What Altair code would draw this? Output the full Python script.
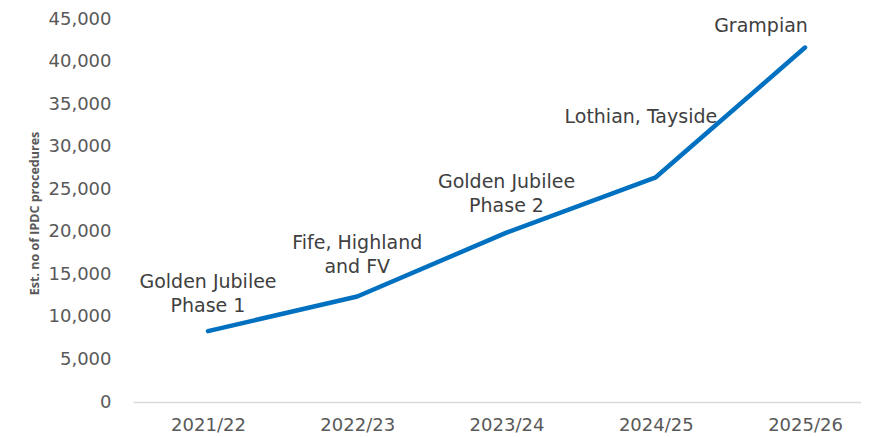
import json
import altair as alt
import pandas as pd

# ---- data ----
years = ["2021/22", "2022/23", "2023/24", "2024/25", "2025/26"]
procedures = [8330, 12400, 19900, 26400, 41650]

ann_text = [["Golden Jubilee", "Phase 1"], ["Fife, Highland", "and FV"],
            ["Golden Jubilee", "Phase 2"], ["Lothian, Tayside"], ["Grampian"]]
ann_x = [0.0, 1.0, 2.0, 2.90, 3.705]
ann_y = [14140, 18640, 25830, 33540, 44180]

y_ticks = [0, 5000, 10000, 15000, 20000, 25000, 30000, 35000, 40000, 45000]

line_df = pd.DataFrame({"idx": list(range(len(years))), "year": years, "value": procedures})
ann_df = pd.DataFrame({"x": ann_x, "y": ann_y, "text": ann_text})

label_expr = json.dumps(years) + "[datum.value]"

xscale = alt.Scale(domain=[-0.5025, 4.375], nice=False, zero=False)
yscale = alt.Scale(domain=[0, 45000], nice=False)

line = alt.Chart(line_df).mark_line(
    color="#0070C0", strokeWidth=4.5, strokeCap="round", strokeJoin="round"
).encode(
    x=alt.X("idx:Q", scale=xscale,
            axis=alt.Axis(values=list(range(len(years))), labelExpr=label_expr,
                          title=None, grid=False, ticks=False,
                          domainColor="#D9D9D9", domainWidth=1.5,
                          labelFont="DejaVu Sans", labelFontSize=18,
                          labelColor="#595959", labelPadding=14)),
    y=alt.Y("value:Q", scale=yscale,
            axis=alt.Axis(values=y_ticks, format=",d", grid=False, ticks=False,
                          domain=False, labelFont="DejaVu Sans", labelFontSize=18,
                          labelColor="#595959", labelPadding=22,
                          title="Est. no of IPDC procedures", titleFont="Open Sans",
                          titleFontSize=12.5, titleFontWeight="bold",
                          titleColor="#595959", titleAngle=-90,
                          titleX=-99, titleY=194, titleAlign="center",
                          titleBaseline="middle")),
)

ann = alt.Chart(ann_df).mark_text(
    font="DejaVu Sans", fontSize=19, color="#404040", lineHeight=24,
    align="center", baseline="middle"
).encode(
    x=alt.X("x:Q", scale=xscale),
    y=alt.Y("y:Q", scale=yscale),
    text="text",
)

chart = alt.layer(line, ann).properties(
    width=728, height=383,
    autosize=alt.AutoSizeParams(type="none"),
    padding={"left": 125, "top": 11, "right": 0, "bottom": 32},
).configure_view(stroke=None)

chart.save("out.html", embed_options={"renderer": "svg", "actions": False})
